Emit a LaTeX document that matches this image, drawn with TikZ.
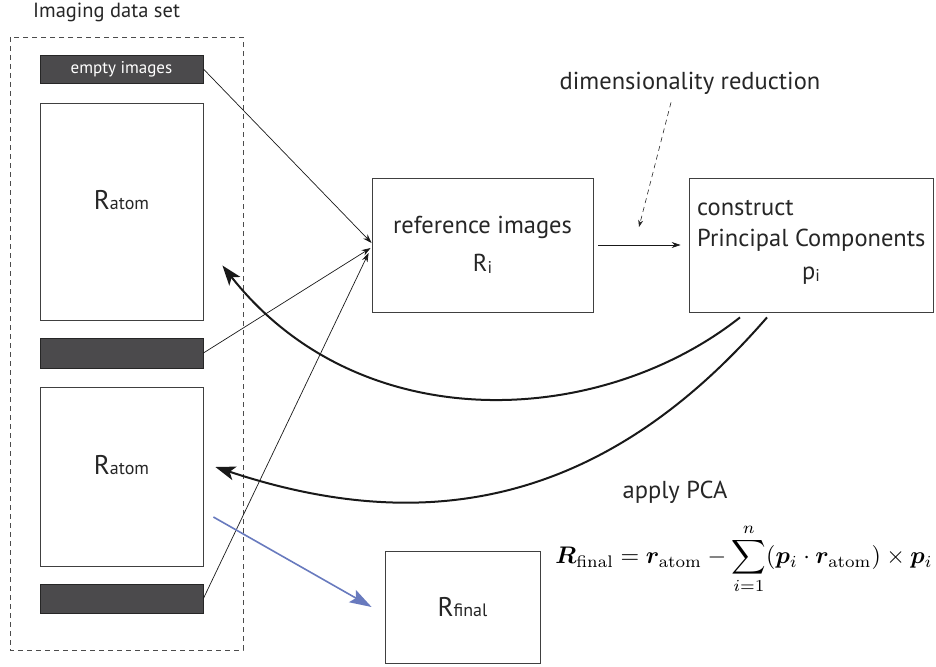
\documentclass[tikz,border=0pt]{standalone}
\usepackage{amsmath,bm,graphicx}
\usepackage[no-math]{fontspec}
\setmainfont{PT Sans}
\usetikzlibrary{arrows.meta,positioning}
\definecolor{pcablue}{RGB}{104,122,190}
\definecolor{bargray}{RGB}{75,74,76}
\newcommand{\subfont}{\fontsize{17}{17}\selectfont}
\newcommand{\atomsub}[1]{{\fontsize{18}{18}\selectfont #1}}
\tikzset{
  databox/.style={draw=black!75, line width=0.8pt, fill=white, inner sep=0pt},
  darkbar/.style={draw=black!85, line width=0.8pt, fill=bargray, inner sep=0pt,
    minimum width=163pt, text=white},
  txt/.style={inner sep=0pt, font=\fontsize{24.5}{28}\selectfont, text=black!85},
  symlbl/.style={inner sep=0pt, font=\fontsize{27}{30}\selectfont, text=black!85},
  feed/.style={-{Stealth[length=9pt,width=6pt]}, line width=0.7pt, black!90},
  back/.style={-{Stealth[length=20pt,width=14pt,inset=5pt]}, line width=2pt, black!90},
  applyarrow/.style={-{Stealth[length=22pt,width=14pt,inset=4pt]}, line width=1.6pt, pcablue},
  dimarrow/.style={-{Stealth[length=7pt,width=5pt]}, line width=0.6pt, black!85,
    dash pattern=on 5pt off 4pt}
}
\begin{document}
\begin{tikzpicture}[x=1pt,y=-1pt]
\useasboundingbox (0,0) rectangle (936,666);
% imaging data set
\draw[black!70, line width=0.8pt, dash pattern=on 5pt off 4pt] (10,37) rectangle (243,650);
\node[txt, font=\fontsize{20.5}{24}\selectfont, anchor=base west] (title) at (33,18) {Imaging data set};
\node[darkbar, minimum height=28pt, font=\fontsize{17}{17}\selectfont] (empty) at (121.5,69) {empty images};
\node[databox, minimum width=163pt, minimum height=217pt] (atomA) at (121.5,211.5) {};
\node[symlbl] (atomAlbl) at ([yshift=11pt]atomA.center) {R\atomsub{atom}};
\node[darkbar, minimum height=30pt] (barB) at (121.5,353) {};
\node[databox, minimum width=163pt, minimum height=179pt] (atomB) at (121.5,476.5) {};
\node[symlbl] (atomBlbl) at ([yshift=11pt]atomB.center) {R\atomsub{atom}};
\node[darkbar, minimum height=29pt] (barC) at (121.5,598.5) {};
% processing boxes
\node[databox, minimum width=221pt, minimum height=134pt, txt, align=center] (refimg) at (482.5,245)
  {reference images\\[10pt]R\raisebox{-2pt}{\subfont i}};
\node[databox, minimum width=244pt, minimum height=134pt] (pcomp) at (811,245) {};
\node[txt, anchor=base west] (pcline1) at (697,215) {construct};
\node[txt, anchor=base west] (pcline2) at (697,246) {Principal Components};
\node[txt, anchor=base] (pcsym) at (811,279) {p\raisebox{-2pt}{\subfont i}};
\node[txt] (dimred) at (690,83) {dimensionality reduction};
\coordinate (dimtip) at (639,227);
\node[databox, minimum width=155pt, minimum height=112pt] (rfinal) at (462.5,607) {};
\node[symlbl] (rfinallbl) at (rfinal.center) {R\atomsub{final}};
\node[txt] (applypca) at (675,492) {apply PCA};
\node[inner sep=0pt] (formula) at (744,559) {\scalebox{2.4}{$\displaystyle
  \bm{R}_{\mathrm{final}}=\bm{r}_{\mathrm{atom}}-\sum_{i=1}^{n}(\bm{p}_i\cdot\bm{r}_{\mathrm{atom}})\times\bm{p}_i$}};
% connectors
\draw[feed] (empty.east) -- ([yshift=2pt]refimg.west);
\draw[feed] (barB.east) -- ([xshift=-1pt,yshift=-3pt]refimg.west);
\draw[feed] (barC.east) -- ([xshift=-3pt,yshift=-8pt]refimg.west);
\draw[feed, shorten <=5pt, shorten >=8pt] (refimg.east) -- (pcomp.west);
\draw[dimarrow] ([xshift=-19pt,yshift=-8pt]dimred.south) -- (dimtip);
\draw[back] ([xshift=-71pt,yshift=-5pt]pcomp.south) .. controls (600,428) and (360,440) .. ([xshift=19pt,yshift=-54pt]atomA.east);
\draw[back] ([xshift=-44pt,yshift=-5pt]pcomp.south) .. controls (600,510) and (420,535) .. ([xshift=12pt,yshift=9.5pt]atomB.east);
\draw[applyarrow] ([xshift=10pt,yshift=-40.5pt]atomB.east) -- ([xshift=-13pt]rfinal.west);
\end{tikzpicture}
\end{document}
